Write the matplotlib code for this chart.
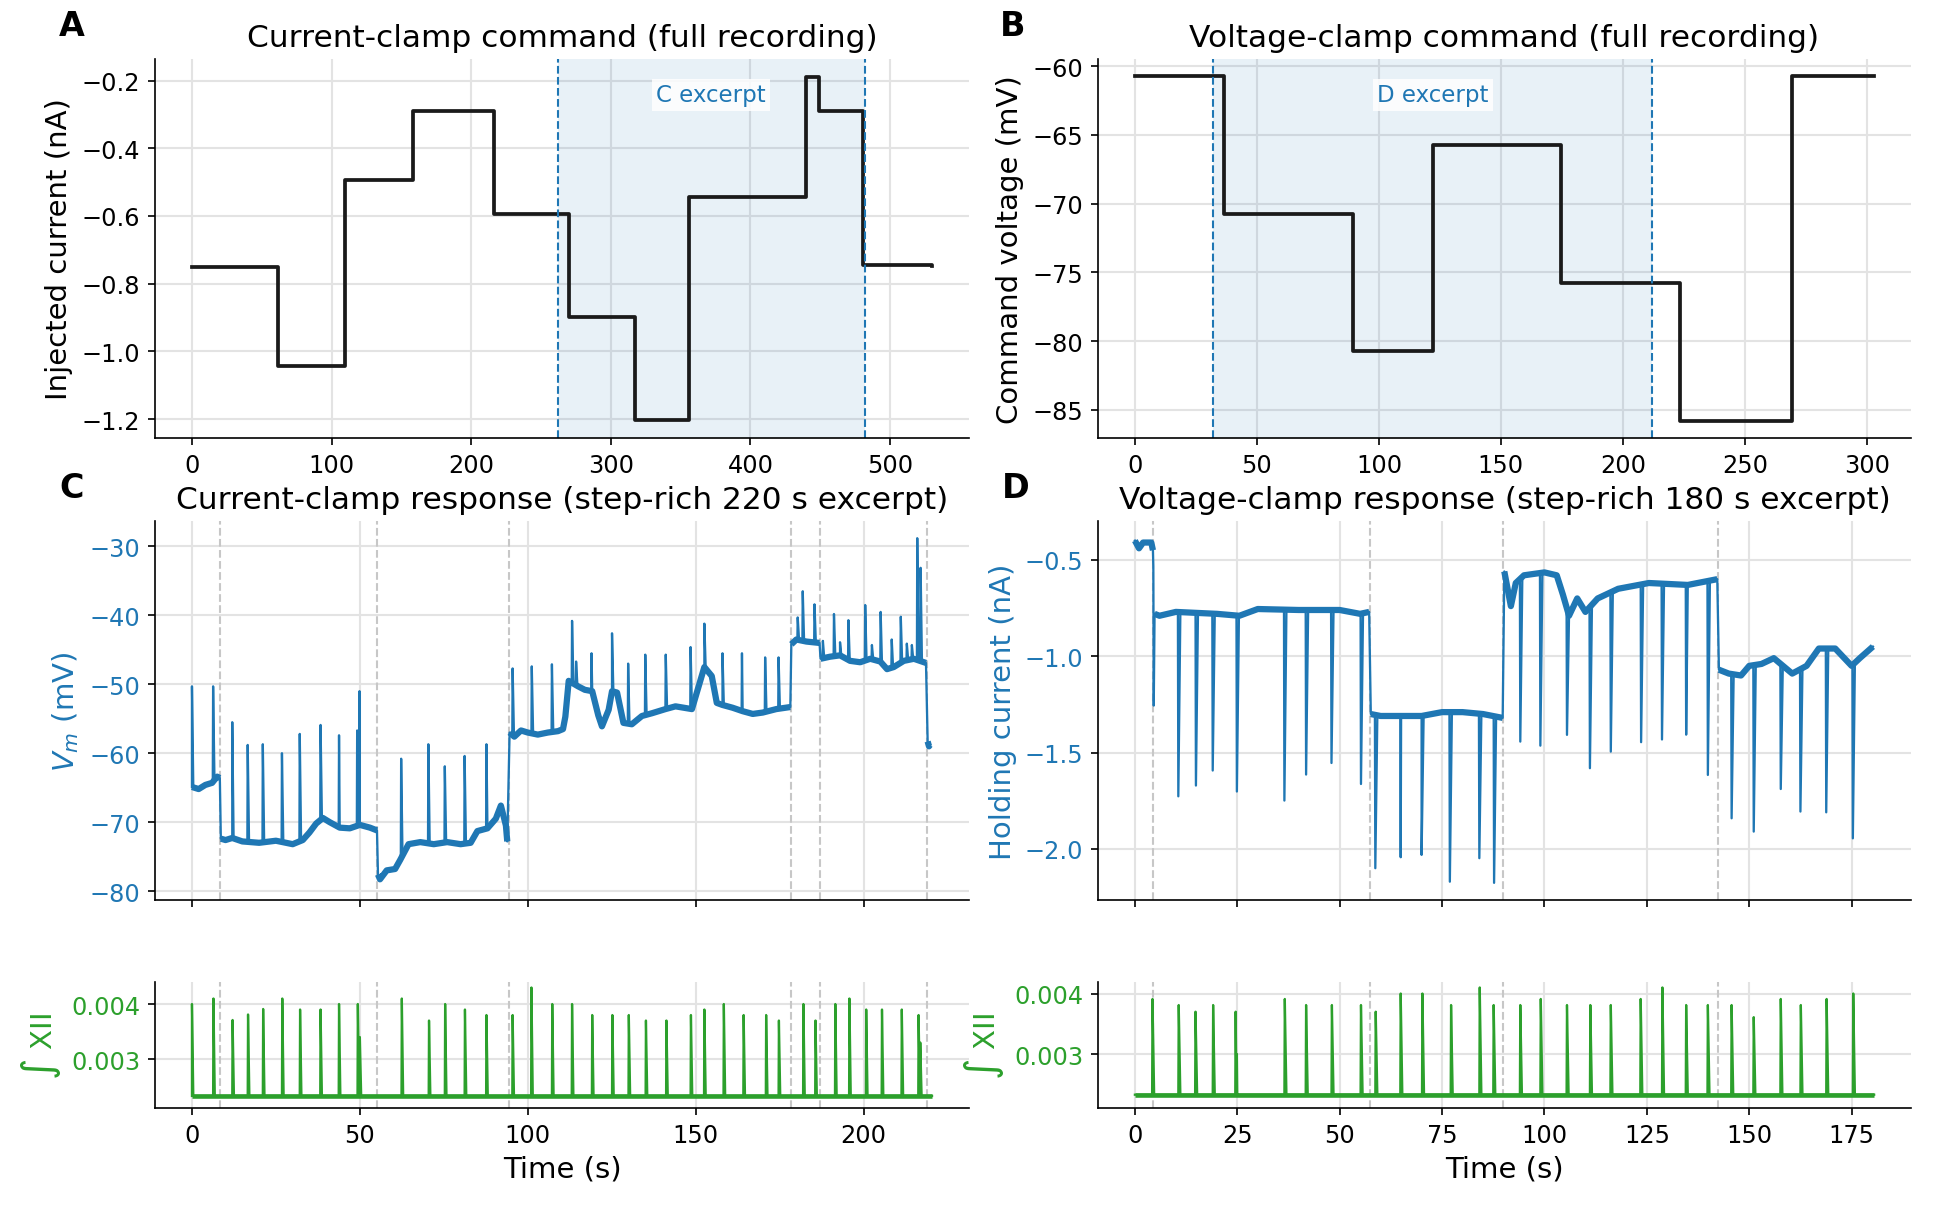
import numpy as np
import matplotlib.pyplot as plt

BLUE = '#1f77b4'
GREEN = '#2ca02c'

# panel A: current-clamp command, step times (s) and levels (nA)
cc_t = [0, 61.5, 109.5, 158.5, 216.0, 270.2, 317.0, 356.2, 440.1, 448.8, 480.7, 530]
cc_i = [-0.751, -1.044, -0.494, -0.291, -0.595, -0.898, -1.202, -0.545, -0.188, -0.291, -0.746, -0.749]
cc_excerpt = [261.8, 481.8]

# panel B: voltage-clamp command, step times (s) and levels (mV)
vc_t = [0, 36.6, 89.4, 122.1, 174.5, 223.6, 269.3, 303]
vc_v = [-60.73, -70.78, -80.75, -65.72, -75.75, -85.8, -60.73, -60.73]
vc_excerpt = [32.1, 212.1]

# panel C: membrane potential, slow baseline (s, mV)
vm_base_t = [0.0, 2.0, 4.0, 6.0, 7.5, 8.3,
             8.6, 10, 12, 15, 20, 25, 30, 33, 35, 37, 39, 41, 44, 47, 50, 53, 55.1,
             55.4, 56, 58, 60.5, 62, 64.5, 68, 72, 76, 80, 83, 85, 88, 90.5, 92, 93.5, 93.9,
             94.6, 96, 98, 100, 103, 106, 109, 110.5, 111.2, 112.2, 115, 117, 119.2, 121, 122.1,
             124.1, 125.1, 126.6, 128.5, 131, 134, 137, 141, 144, 148.9, 150.9, 152.6, 154.8,
             156.3, 158, 161, 164, 167, 170, 174, 178.2,
             178.5, 180, 183, 186.9,
             187.2, 190, 193, 196, 199, 202, 205, 207, 209, 212, 215, 218.6,
             219.1, 219.5, 219.8]
vm_base_v = [-64.9, -65.2, -64.6, -64.3, -63.4, -63.6,
             -72.4, -72.6, -72.3, -72.8, -73.0, -72.7, -73.2, -72.6, -71.5, -70.2, -69.4, -70.0, -70.8, -70.9, -70.4, -70.8, -71.2,
             -77.6, -78.3, -77.0, -76.8, -75.5, -73.2, -72.9, -73.2, -72.9, -73.2, -73.0, -71.3, -70.9, -69.5, -67.6, -70.5, -72.8,
             -57.0, -57.6, -56.7, -57.0, -57.3, -57.0, -56.8, -56.5, -54.7, -49.5, -50.3, -50.8, -51.0, -54.5, -56.1,
             -53.7, -51.0, -51.2, -55.6, -55.8, -54.6, -54.2, -53.6, -53.2, -53.6, -50.3, -47.5, -48.8,
             -52.7, -53.0, -53.4, -53.9, -54.3, -54.1, -53.6, -53.3,
             -44.2, -43.5, -43.8, -44.0,
             -46.3, -46.0, -45.8, -46.6, -46.8, -46.3, -46.7, -47.8, -47.5, -46.6, -46.3, -46.9,
             -58.3, -59.0, -58.8]
vm_spike_t = [0.0, 6.3, 12.0, 16.6, 21.1, 26.8, 32.1, 38.3, 43.8, 49.2, 49.9, 62.3, 70.4, 75.3,
              81.2, 87.7, 95.5, 101.2, 107.2, 113.2, 114.4, 119.0, 125.1, 129.9, 135.0, 141.1,
              148.5, 152.6, 158.0, 163.8, 170.7, 174.7, 180.4, 181.9, 185.4, 187.9, 191.2, 193.0,
              195.5, 200.5, 202.5, 205.1, 208.4, 211.1, 212.9, 214.4, 216.0, 217.0]
vm_spike_v = [-50.3, -50.3, -55.5, -58.8, -58.7, -60.0, -57.2, -55.9, -57.4, -56.7, -51.0, -60.8, -58.7, -61.9,
              -60.4, -58.7, -47.7, -47.4, -47.1, -40.8, -46.7, -45.5, -42.6, -47.0, -45.7, -45.7,
              -44.6, -41.2, -45.5, -45.5, -46.1, -46.1, -40.3, -36.5, -38.4, -43.7, -39.8, -43.9,
              -40.7, -38.5, -44.3, -39.5, -43.5, -40.2, -44.1, -44.3, -28.8, -33.1]

# panel C: integrated XII bursts
xii_c_t = [0.0, 6.4, 12.1, 16.7, 21.2, 26.9, 32.2, 38.3, 43.8, 49.4, 50.0, 62.5, 70.6, 75.4, 81.3,
           87.7, 95.5, 101.1, 107.3, 113.2, 119.2, 125.2, 130.1, 135.2, 141.3, 148.6, 152.6,
           158.4, 164.3, 171.0, 174.8, 182.1, 185.7, 191.6, 195.8, 200.8, 205.5, 211.4, 216.4, 216.9]
xii_c_v = [0.0040, 0.0041, 0.00371, 0.00381, 0.00391, 0.0041, 0.0039, 0.0039, 0.0040, 0.0040, 0.0034,
           0.0041, 0.0037, 0.0040, 0.0039, 0.0038, 0.0038, 0.0043, 0.0040, 0.0040, 0.0038, 0.0038,
           0.0038, 0.0037, 0.0037, 0.0038, 0.0039, 0.0040, 0.0038, 0.0038, 0.0037, 0.0040, 0.0037,
           0.0040, 0.0041, 0.0039, 0.0039, 0.0039, 0.0038, 0.0033]
xii_c_base = 0.00233
c_end = 220.4

# panel D: holding current, slow baseline (s, nA)
ih_base_t = [0, 1, 2, 4, 4.4,
             4.8, 6, 10, 20, 25.5, 30, 40, 50, 55, 57.2,
             57.6, 60, 65, 70, 75, 80, 85, 89.8,
             90.2, 91.8, 93, 95, 100, 103, 104.5, 106, 108, 110, 113, 118, 125.5, 135, 142.2,
             142.6, 145, 148, 150, 153, 156, 160.5, 164, 167, 171, 175, 177, 180.2]
ih_base_v = [-0.40, -0.44, -0.41, -0.41, -0.45,
             -0.78, -0.79, -0.77, -0.78, -0.79, -0.755, -0.76, -0.76, -0.78, -0.77,
             -1.30, -1.31, -1.31, -1.31, -1.29, -1.29, -1.30, -1.32,
             -0.56, -0.74, -0.62, -0.58, -0.565, -0.58, -0.68, -0.79, -0.70, -0.77, -0.70, -0.65, -0.62, -0.63, -0.60,
             -1.07, -1.09, -1.10, -1.05, -1.04, -1.01, -1.09, -1.05, -0.96, -0.96, -1.05, -1.01, -0.95]
ih_spike_t = [4.6, 10.6, 14.9, 19.0, 24.9, 36.5, 41.8, 48.0, 55.2, 58.7, 64.9, 70.0, 76.9, 84.1, 87.7,
              94.1, 99.0, 105.5, 111.1, 116.2, 123.6, 128.7, 134.6, 139.9, 145.7, 151.1, 157.7,
              162.5, 168.8, 175.3]
ih_spike_v = [-1.256, -1.727, -1.671, -1.593, -1.702, -1.749, -1.614, -1.554, -1.663, -2.100, -2.043,
              -2.031, -2.170, -2.048, -2.176, -1.443, -1.464, -1.408, -1.581, -1.495, -1.446, -1.432,
              -1.407, -1.616, -1.841, -1.910, -1.689, -1.806, -1.810, -1.945]

# panel D: integrated XII bursts
xii_d_t = [4.3, 10.7, 14.8, 19.1, 24.6, 24.9, 36.6, 41.8, 48.1, 55.2, 58.8, 64.9, 70.2, 77.2, 84.2,
           87.6, 94.1, 99.1, 105.5, 111.2, 116.2, 123.5, 128.8, 134.6, 139.9, 145.7, 151.1,
           157.7, 162.6, 168.9, 175.4]
xii_d_v = [0.00391, 0.00381, 0.00370, 0.00381, 0.00370, 0.0030, 0.00391, 0.00381, 0.00381, 0.00381,
           0.00370, 0.0040, 0.0040, 0.00381, 0.0041, 0.00381, 0.00381, 0.00391, 0.00381, 0.00381,
           0.00381, 0.00391, 0.0041, 0.00381, 0.00381, 0.00381, 0.00361, 0.00391, 0.00381,
           0.00391, 0.0040]
xii_d_base = 0.00233
d_end = 180.5


def with_events(base_t, base_v, ev_t, ev_v, rise=0.1, decay=0.4):
    # baseline key points plus a sharp event at each listed time
    base_t = np.asarray(base_t, float)
    base_v = np.asarray(base_v, float)
    ev_t = np.asarray(ev_t, float)
    pre = ev_t - rise
    post = ev_t + decay
    t = np.concatenate([base_t, pre, ev_t, post])
    v = np.concatenate([base_v, np.interp(pre, base_t, base_v), ev_v,
                        np.interp(post, base_t, base_v)])
    keep = (t >= base_t[0]) & (t <= base_t[-1])
    t, v = t[keep], v[keep]
    order = np.argsort(t, kind='stable')
    return t[order], v[order]


def draw_band(ax, base_t, base_v, steps, color, lw):
    # thicker baseline, broken at the command steps
    t = np.asarray(base_t, float)
    v = np.asarray(base_v, float)
    seg = np.searchsorted(steps, t)
    for k in np.unique(seg):
        m = seg == k
        ax.plot(t[m], v[m], color=color, lw=lw, solid_capstyle='butt',
                solid_joinstyle='round', zorder=2)


def style(ax):
    ax.spines['top'].set_visible(False)
    ax.spines['right'].set_visible(False)
    ax.grid(True, color='#e3e3e3', lw=1.0)
    ax.set_axisbelow(True)
    ax.tick_params(labelsize=11.5)


fig = plt.figure(figsize=(13, 8.04), dpi=150)
axA = fig.add_axes([0.0795, 0.636, 0.4174, 0.3143])
axB = fig.add_axes([0.5631, 0.636, 0.4169, 0.3143])
axC = fig.add_axes([0.0795, 0.2529, 0.4174, 0.3143])
axC2 = fig.add_axes([0.0795, 0.0804, 0.4174, 0.1045], sharex=axC)
axD = fig.add_axes([0.5631, 0.2529, 0.4169, 0.3143])
axD2 = fig.add_axes([0.5631, 0.0804, 0.4169, 0.1045], sharex=axD)
for a in [axA, axB, axC, axC2, axD, axD2]:
    style(a)

# A
axA.step(cc_t, cc_i, where='post', color='#1a1a1a', lw=1.8)
axA.axvspan(cc_excerpt[0], cc_excerpt[1], color=BLUE, alpha=0.1, lw=0)
for x in cc_excerpt:
    axA.axvline(x, color=BLUE, ls='--', lw=1.0)
axA.text(np.mean(cc_excerpt), 0.905, 'C excerpt', transform=axA.get_xaxis_transform(),
         ha='center', va='center', color=BLUE, fontsize=11,
         bbox=dict(facecolor='white', edgecolor='none', alpha=0.85, pad=2))
axA.set_xticks([0, 100, 200, 300, 400, 500])
axA.set_yticks([-1.2, -1.0, -0.8, -0.6, -0.4, -0.2])
axA.set_ylim(-1.256, -0.136)
axA.set_ylabel('Injected current (nA)', fontsize=14)
axA.set_title('Current-clamp command (full recording)', fontsize=15)

# B
axB.step(vc_t, vc_v, where='post', color='#1a1a1a', lw=1.8)
axB.axvspan(vc_excerpt[0], vc_excerpt[1], color=BLUE, alpha=0.1, lw=0)
for x in vc_excerpt:
    axB.axvline(x, color=BLUE, ls='--', lw=1.0)
axB.text(np.mean(vc_excerpt), 0.905, 'D excerpt', transform=axB.get_xaxis_transform(),
         ha='center', va='center', color=BLUE, fontsize=11,
         bbox=dict(facecolor='white', edgecolor='none', alpha=0.85, pad=2))
axB.set_xticks([0, 50, 100, 150, 200, 250, 300])
axB.set_yticks([-85, -80, -75, -70, -65, -60])
axB.set_ylabel('Command voltage (mV)', fontsize=14)
axB.set_title('Voltage-clamp command (full recording)', fontsize=15)

# step times inside each excerpt, in excerpt time
c_steps = [s - cc_excerpt[0] for s in cc_t[1:-1] if cc_excerpt[0] < s < cc_excerpt[1] + 1]
d_steps = [s - vc_excerpt[0] for s in vc_t[1:-1] if vc_excerpt[0] < s < vc_excerpt[1]]

# C
draw_band(axC, vm_base_t, vm_base_v, c_steps, BLUE, 3.0)
t, v = with_events(vm_base_t, vm_base_v, vm_spike_t, vm_spike_v)
axC.plot(t, v, color=BLUE, lw=1.1, zorder=3)
t, v = with_events([0, c_end], [xii_c_base, xii_c_base], xii_c_t, xii_c_v)
axC2.plot([0, c_end], [xii_c_base, xii_c_base], color=GREEN, lw=2.2, solid_capstyle='butt')
axC2.plot(t, v, color=GREEN, lw=1.1)
for s in c_steps:
    axC.axvline(s, color='0.78', ls='--', lw=1.0, zorder=1)
    axC2.axvline(s, color='0.78', ls='--', lw=1.0, zorder=1)
axC.set_ylim(-81.3, -26.3)
axC.set_yticks([-80, -70, -60, -50, -40, -30])
axC.set_ylabel('$V_m$ (mV)', fontsize=14, color=BLUE)
axC.tick_params(axis='y', labelcolor=BLUE)
axC.tick_params(axis='x', labelbottom=False)
axC.set_title('Current-clamp response (step-rich 220 s excerpt)', fontsize=15)
axC2.set_ylim(0.00211, 0.0044)
axC2.set_yticks([0.003, 0.004])
axC2.set_ylabel('$\\int$ XII', fontsize=14, color=GREEN)
axC2.tick_params(axis='y', labelcolor=GREEN)
axC2.set_xticks([0, 50, 100, 150, 200])
axC2.set_xlim(-11, 231.4)
axC2.set_xlabel('Time (s)', fontsize=14)

# D
draw_band(axD, ih_base_t, ih_base_v, d_steps, BLUE, 3.0)
t, v = with_events(ih_base_t, ih_base_v, ih_spike_t, ih_spike_v, decay=0.5)
axD.plot(t, v, color=BLUE, lw=1.1, zorder=3)
t, v = with_events([0, d_end], [xii_d_base, xii_d_base], xii_d_t, xii_d_v)
axD2.plot([0, d_end], [xii_d_base, xii_d_base], color=GREEN, lw=2.2, solid_capstyle='butt')
axD2.plot(t, v, color=GREEN, lw=1.1)
for s in d_steps:
    axD.axvline(s, color='0.78', ls='--', lw=1.0, zorder=1)
    axD2.axvline(s, color='0.78', ls='--', lw=1.0, zorder=1)
axD.set_ylim(-2.265, -0.298)
axD.set_yticks([-2.0, -1.5, -1.0, -0.5])
axD.set_ylabel('Holding current (nA)', fontsize=14, color=BLUE)
axD.tick_params(axis='y', labelcolor=BLUE)
axD.tick_params(axis='x', labelbottom=False)
axD.set_title('Voltage-clamp response (step-rich 180 s excerpt)', fontsize=15)
axD2.set_ylim(0.00211, 0.00419)
axD2.set_yticks([0.003, 0.004])
axD2.set_ylabel('$\\int$ XII', fontsize=14, color=GREEN)
axD2.tick_params(axis='y', labelcolor=GREEN)
axD2.set_xticks([0, 25, 50, 75, 100, 125, 150, 175])
axD2.set_xlim(-9.0, 189.5)
axD2.set_xlabel('Time (s)', fontsize=14)

# panel letters
for letter, x, y in [('A', 72, 27), ('B', 1013, 27), ('C', 72, 489), ('D', 1016, 489)]:
    fig.text(x / 1950, 1 - y / 1206, letter, fontsize=16, fontweight='bold',
             ha='center', va='center')

fig.savefig('out.png', dpi=150)
